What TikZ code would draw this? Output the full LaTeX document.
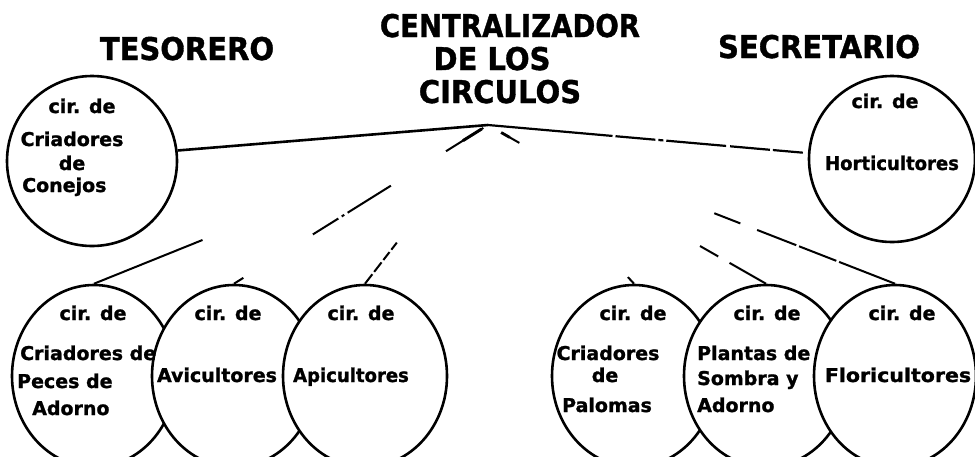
\documentclass[tikz,border=0pt]{standalone}
\usepackage{fontspec}
\setmainfont{DejaVu Sans}[BoldFeatures={FakeBold=1.2}]
\usetikzlibrary{shapes.geometric}
\begin{document}
\begin{tikzpicture}[x=1pt,y=-1pt,
  circ/.style={circle,draw,line width=2.6pt,fill=white,inner sep=0pt},
  oval/.style={ellipse,draw,line width=2.6pt,fill=white,inner sep=0pt,minimum width=164pt,minimum height=182pt},
  lbl/.style={font=\bfseries\fontsize{19}{21}\selectfont,inner sep=0pt,anchor=base},
  lbll/.style={lbl,anchor=base west},
  ttl/.style={font=\bfseries\fontsize{29}{31}\selectfont,inner sep=0pt,anchor=base},
  link/.style={line width=2pt},
  mainlink/.style={line width=2.6pt}]
\useasboundingbox (0,0) rectangle (975,456);
\coordinate (apex) at (488,125);
% circles, each one drawn over the one on its left
\node[circ,minimum size=170pt] (conejos) at (92,161) {};
\node[circ,minimum size=166pt] (horti) at (892,159) {};
\node[oval] (peces) at (94,376) {};
\node[oval] (avi) at (234,376) {};
\node[oval] (api) at (365,376) {};
\node[oval] (palomas) at (634,376) {};
\node[oval] (plantas) at (766,376) {};
\node[oval,minimum width=162pt] (flori) at (895,376) {};
% main connectors
\draw[mainlink] (conejos.7) -- (apex);
\draw[mainlink,line width=2.2pt,dash pattern=on 125pt off 3pt on 40pt off 3pt on 5pt off 3pt on 60pt off 4pt on 40pt off 3pt on 30pt off 8pt on 40pt] (apex) -- (horti.176);
% faint connectors from the lower circles to the centre
\draw[link,dash pattern=on 117pt off 500pt] (peces.north) -- (apex);
\draw[link,dash pattern=on 11pt off 82pt on 30pt off 4pt on 3pt off 4pt on 51pt off 65pt on 44pt off 60pt] (avi.north) -- (apex);
\draw[link,line width=3pt,dash pattern=on 0pt off 270pt on 22pt off 60pt] (avi.north) -- (apex);
\draw[link,dash pattern=on 12pt off 3pt on 12pt off 3pt on 10pt off 3pt on 9pt off 300pt] (api.north) -- (apex);
\draw[link,dash pattern=on 9pt off 400pt] (palomas.north) -- (apex);
\draw[link,dash pattern=on 42pt off 13pt on 21pt off 208pt on 20pt off 80pt] (plantas.north) -- (apex);
\draw[link,line width=2.8pt,dash pattern=on 0pt off 295pt on 10pt off 60pt] (plantas.north) -- (apex);
\draw[link,dash pattern=on 60pt off 3pt on 40pt off 3pt on 42pt off 18pt on 28pt off 400pt] (flori.north) -- (apex);
% titles
\node[ttl] (tes) at (187,60) {\scalebox{1}[1.08]{TESORERO}};
\node[ttl] (cen1) at (510,37) {\scalebox{0.95}[1.08]{CENTRALIZADOR}};
\node[ttl] (cen2) at (492,70) {\scalebox{1}[1.08]{DE LOS}};
\node[ttl] (cen3) at (500,103) {\scalebox{1}[1.08]{CIRCULOS}};
\node[ttl] (sec) at (819,58) {\scalebox{1}[1.08]{SECRETARIO}};
% texts in the circles
\node[lbl] (t1a) at (82,113) {cir. de};
\node[lbl] (t1b) at (72,146) {Criadores};
\node[lbl] (t1c) at (72,170) {de};
\node[lbll] (t1d) at (22,192) {Conejos};
\node[lbl] (t2a) at (885,108) {cir. de};
\node[lbl] (t2b) at (892,170) {\scalebox{0.95}[1]{Horticultores}};
\node[lbl] (t3a) at (93,320) {cir. de};
\node[lbll] (t3b) at (20,360) {Criadores de};
\node[lbll] (t3c) at (17,388) {Peces de};
\node[lbll] (t3d) at (32,415) {Adorno};
\node[lbl] (t4a) at (228,320) {cir. de};
\node[lbl] (t4b) at (217,382) {Avicultores};
\node[lbl] (t5a) at (361,320) {cir. de};
\node[lbl] (t5b) at (351,382) {\scalebox{0.95}[1]{Apicultores}};
\node[lbl] (t6a) at (633,320) {cir. de};
\node[lbl] (t6b) at (608,360) {Criadores};
\node[lbl] (t6c) at (605,382) {de};
\node[lbl] (t6d) at (607,412) {Palomas};
\node[lbl] (t7a) at (767,320) {cir. de};
\node[lbll] (t7b) at (697,360) {Plantas de};
\node[lbll] (t7c) at (697,385) {Sombra y};
\node[lbll] (t7d) at (697,412) {Adorno};
\node[lbl] (t8a) at (902,320) {cir. de};
\node[lbl] (t8b) at (898,382) {\scalebox{1.08}[1]{Floricultores}};
\end{tikzpicture}
\end{document}
